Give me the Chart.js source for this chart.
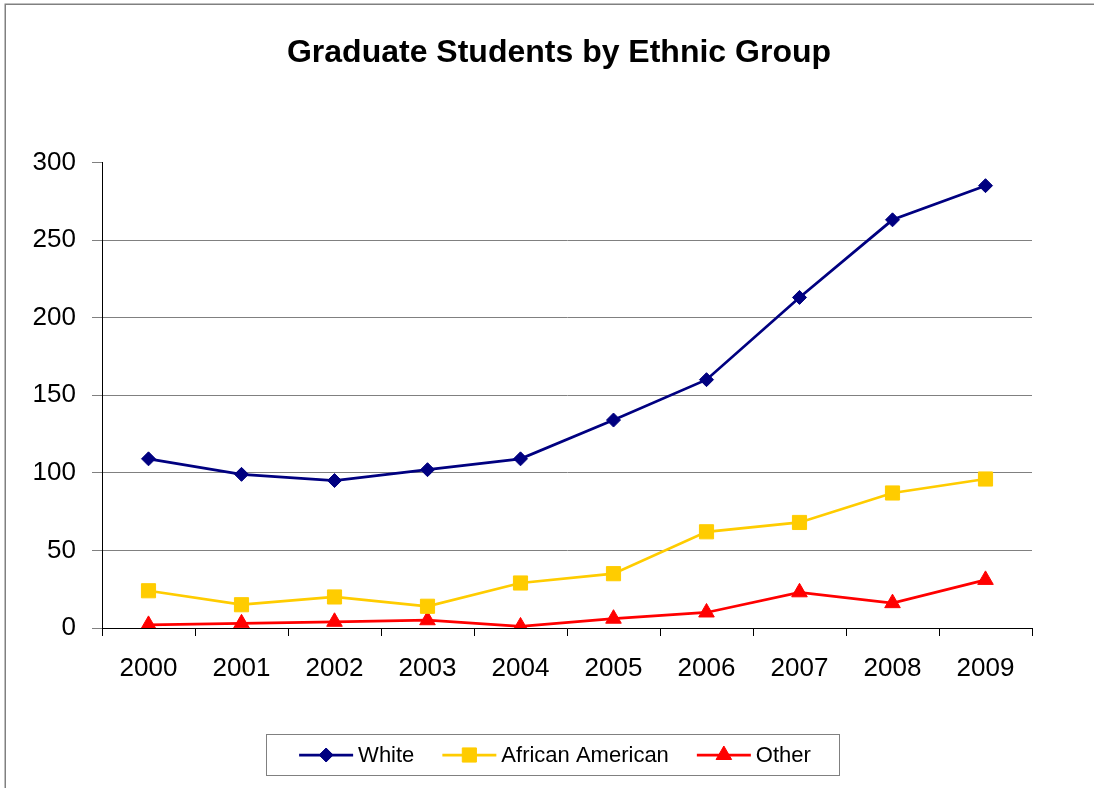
<!DOCTYPE html>
<html>
<head>
<meta charset="utf-8">
<script src="https://cdn.jsdelivr.net/npm/chart.js@4.4.0/dist/chart.umd.min.js"></script>
<style>
html,body{margin:0;padding:0;background:#fff;}
#wrap{width:1094px;height:788px;position:relative;overflow:hidden;}
canvas{display:block;}
</style>
</head>
<body>
<div id="wrap"><canvas id="c" width="1094" height="788"></canvas></div>
<script>
// ---- data ----
const titleText = 'Graduate Students by Ethnic Group';
const years = ['2000','2001','2002','2003','2004','2005','2006','2007','2008','2009'];
const seriesNames = ['White','African American','Other'];
const white = [109, 99, 95, 102, 109, 134, 160, 213, 263, 285];
const africanAmerican = [24, 15, 20, 14, 29, 35, 62, 68, 87, 96];
const other = [2, 3, 4, 5, 1, 6, 10, 23, 16, 31];
const yTicks = [0, 50, 100, 150, 200, 250, 300];

const FONT = "'Liberation Sans', Arial, Helvetica, sans-serif";

const frame = {
  id: 'frame',
  beforeDraw(chart) {
    const ctx = chart.ctx;
    ctx.save();
    ctx.fillStyle = '#ffffff';
    ctx.fillRect(0, 0, chart.width, chart.height);
    ctx.strokeStyle = '#808080';
    ctx.lineWidth = 1.5;
    ctx.strokeRect(5.25, 4.25, chart.width + 50, chart.height + 50);
    ctx.restore();
  }
};

const customLegend = {
  id: 'customLegend',
  afterDraw(chart) {
    const ctx = chart.ctx;
    const box = {x: 266.5, y: 734.5, w: 573, h: 41};
    const cy = box.y + box.h / 2;
    ctx.save();
    ctx.strokeStyle = '#808080';
    ctx.lineWidth = 1;
    ctx.strokeRect(box.x, box.y, box.w, box.h);
    ctx.font = '22px ' + FONT;
    const lineLen = 54, gapText = 5, gapItem = 28;
    const items = chart.data.datasets.map(ds => ({ds, tw: ctx.measureText(ds.label).width}));
    let total = 0;
    items.forEach((it, i) => { total += lineLen + gapText + it.tw + (i ? gapItem : 0); });
    let x = box.x + (box.w - total) / 2 + 2;
    items.forEach(it => {
      const ds = it.ds;
      ctx.strokeStyle = ds.borderColor;
      ctx.lineWidth = ds.borderWidth;
      ctx.beginPath();
      ctx.moveTo(x, cy);
      ctx.lineTo(x + lineLen, cy);
      ctx.stroke();
      ctx.fillStyle = ds.pointBackgroundColor;
      ctx.strokeStyle = ds.pointBorderColor;
      ctx.lineWidth = 1;
      Chart.helpers.drawPoint(ctx, {pointStyle: ds.pointStyle, radius: ds.pointRadius, borderWidth: 1}, x + lineLen / 2, cy);
      ctx.fillStyle = '#000000';
      ctx.textBaseline = 'middle';
      ctx.textAlign = 'left';
      ctx.fillText(ds.label, x + lineLen + gapText, cy + 1);
      x += lineLen + gapText + it.tw + gapItem;
    });
    ctx.restore();
  }
};

function mkSet(label, data, color, style, radius) {
  return {
    label, data,
    borderColor: color,
    backgroundColor: color,
    pointBackgroundColor: color,
    pointBorderColor: color,
    pointStyle: style,
    pointRadius: radius,
    pointHoverRadius: radius,
    pointBorderWidth: 1,
    borderWidth: 2.75,
    tension: 0,
    fill: false,
    yAxisID: 'y'
  };
}

new Chart(document.getElementById('c'), {
  type: 'line',
  data: {
    labels: years,
    datasets: [
      mkSet(seriesNames[0], white, '#000080', 'rectRot', 7),
      mkSet(seriesNames[1], africanAmerican, '#FFCC00', 'rect', 10),
      mkSet(seriesNames[2], other, '#FF0000', 'triangle', 9)
    ]
  },
  options: {
    responsive: false,
    animation: false,
    devicePixelRatio: 1,
    layout: {padding: {left: 24, right: 0, top: 0, bottom: 100}},
    plugins: {
      legend: {display: false},
      tooltip: {enabled: false},
      title: {
        display: true,
        text: titleText,
        color: '#000000',
        font: {family: FONT, size: 32, weight: 'bold', lineHeight: 1.2},
        padding: {top: 34, bottom: 90}
      }
    },
    scales: {
      x: {
        type: 'category',
        offset: true,
        border: {display: true, color: '#000000', width: 1},
        grid: {
          offset: true,
          drawOnChartArea: false,
          drawTicks: true,
          tickLength: 8,
          tickColor: '#000000',
          tickWidth: 1
        },
        ticks: {
          color: '#000000',
          font: {family: FONT, size: 26},
          padding: 17,
          maxRotation: 0,
          autoSkip: false
        },
        afterFit(scale) { scale.height = 60; }
      },
      y: {
        position: 'left',
        min: yTicks[0],
        max: yTicks[yTicks.length - 1],
        border: {display: true, color: '#000000', width: 1},
        grid: {
          color: ctx => (ctx.tick && ctx.tick.value === yTicks[yTicks.length - 1]) ? 'rgba(0,0,0,0)' : '#808080',
          tickColor: '#808080',
          lineWidth: 1,
          tickLength: 10
        },
        afterBuildTicks(scale) { scale.ticks = yTicks.map(v => ({value: v})); },
        ticks: {
          color: '#000000',
          font: {family: FONT, size: 26},
          padding: 16
        },
        afterFit(scale) { scale.width = 78; }
      },
      spacer: {
        position: 'right',
        display: true,
        grid: {display: false, drawTicks: false},
        border: {display: false},
        ticks: {display: false},
        afterFit(scale) { scale.width = 62; }
      }
    }
  },
  plugins: [frame, customLegend]
});
</script>
</body>
</html>
